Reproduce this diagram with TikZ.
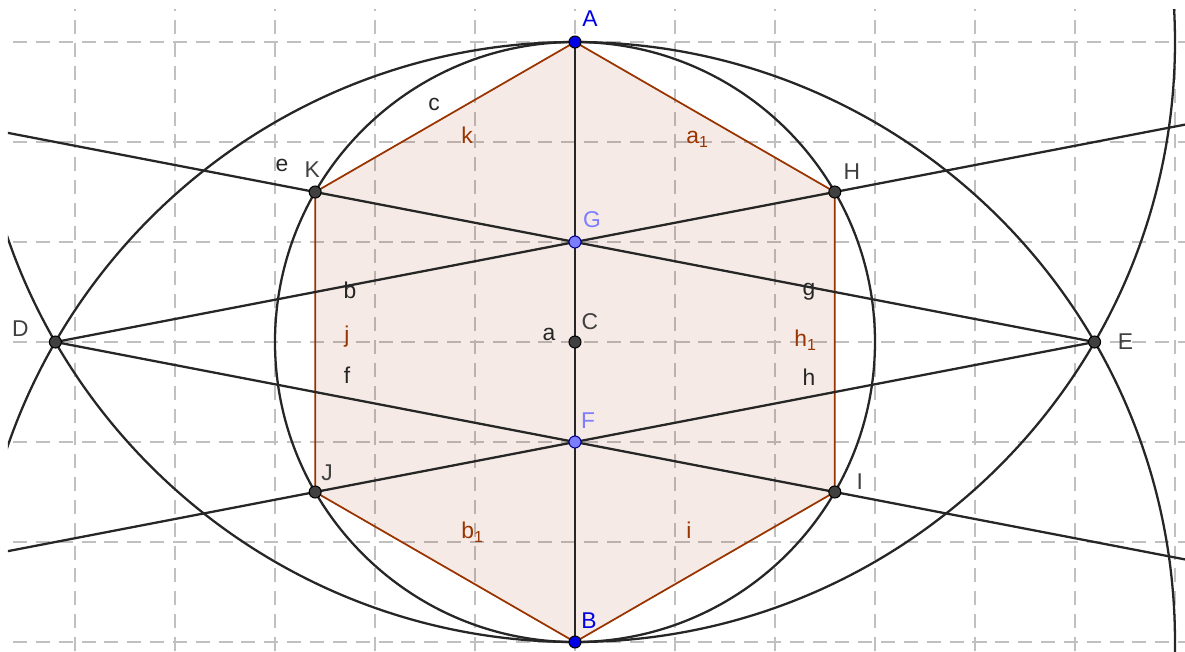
\documentclass[tikz,border=0pt]{standalone}
\usepackage{fontspec}
\setmainfont{Liberation Sans}
\usepackage{xcolor}
\usetikzlibrary{calc}

\definecolor{ggbBrown}{RGB}{153,51,0}
\definecolor{ggbBlue}{RGB}{0,0,230}
\definecolor{ggbLightBlue}{RGB}{125,125,255}
\definecolor{ggbDark}{RGB}{64,64,64}
\definecolor{ggbGrid}{RGB}{192,192,192}

\begin{document}
\begin{tikzpicture}[
    font=\fontsize{6.5}{7.5}\selectfont,
    grid line/.style={ggbGrid, line width=0.35pt, dash pattern=on 4pt off 2.5pt},
    construct/.style={black!85, line width=0.65pt},
    poly edge/.style={ggbBrown, line width=0.5pt},
    dot/.style={circle, draw=black, line width=0.3pt, inner sep=0pt, minimum size=0.12cm},
    dark dot/.style={dot, fill=ggbDark},
    blue dot/.style={dot, fill=ggbBlue},
    light dot/.style={dot, fill=ggbLightBlue, draw=ggbBlue!60!black},
    pt label/.style={inner sep=0pt, text=ggbDark},
    line label/.style={inner sep=0pt, text=black!85},
    edge label/.style={inner sep=0pt, text=ggbBrown}
]

\useasboundingbox (-5.75,-3.09) rectangle (6.10,3.42);

\coordinate (C) at (0,0);
\coordinate (A) at (0,3);
\coordinate (B) at (0,-3);
\coordinate (D) at ({-3*sqrt(3)},0);
\coordinate (E) at ({3*sqrt(3)},0);
\coordinate (G) at (0,1);
\coordinate (F) at (0,-1);
\coordinate (H) at (30:3);
\coordinate (K) at (150:3);
\coordinate (J) at (210:3);
\coordinate (I) at (330:3);

\coordinate (bEnd) at ($(D)!2.5!(G)$);
\coordinate (fEnd) at ($(D)!2.5!(F)$);
\coordinate (eEnd) at ($(E)!2.5!(G)$);
\coordinate (hEnd) at ($(E)!2.5!(F)$);

\begin{scope}
\clip (-5.67,-3.09) rectangle (6.10,3.33);
\foreach \x in {-5,...,6}
    \draw[grid line] (\x,-3.09) -- (\x,3.33);
\foreach \y in {-3,...,3}
    \draw[grid line] (-5.62,\y) -- (6.10,\y);

\fill[ggbBrown, fill opacity=0.1] (A) -- (H) -- (I) -- (B) -- (J) -- (K) -- cycle;
\draw[poly edge] (A) -- (H) -- (I) -- (B) -- (J) -- (K) -- cycle;

\draw[construct] (C) circle[radius=3];
\draw[construct] (A) circle[radius=6];
\draw[construct] (B) circle[radius=6];
\draw[construct] (A) -- (B);
\draw[construct] (D) -- (bEnd);
\draw[construct] (D) -- (fEnd);
\draw[construct] (E) -- (eEnd);
\draw[construct] (E) -- (hEnd);
\end{scope}

\node[blue dot] (dotA) at (A) {};
\node[blue dot] (dotB) at (B) {};
\node[dark dot] (dotC) at (C) {};
\node[dark dot] (dotD) at (D) {};
\node[dark dot] (dotE) at (E) {};
\node[light dot] (dotG) at (G) {};
\node[light dot] (dotF) at (F) {};
\node[dark dot] (dotH) at (H) {};
\node[dark dot] (dotI) at (I) {};
\node[dark dot] (dotJ) at (J) {};
\node[dark dot] (dotK) at (K) {};

\node[pt label, text=ggbBlue] (labA) at ($(A)+(0.15,0.235)$) {A};
\node[pt label, text=ggbBlue] (labB) at ($(B)+(0.14,0.21)$) {B};
\node[pt label] (labC) at ($(C)+(0.15,0.20)$) {C};
\node[pt label] (labD) at ($(D)+(-0.35,0.13)$) {D};
\node[pt label] (labE) at ($(E)+(0.31,0)$) {E};
\node[pt label, text=ggbLightBlue] (labG) at ($(G)+(0.17,0.22)$) {G};
\node[pt label, text=ggbLightBlue] (labF) at ($(F)+(0.13,0.21)$) {F};
\node[pt label] (labH) at ($(H)+(0.17,0.20)$) {H};
\node[pt label] (labI) at ($(I)+(0.25,0.10)$) {I};
\node[pt label] (labJ) at ($(J)+(0.12,0.19)$) {J};
\node[pt label] (labK) at ($(K)+(-0.03,0.22)$) {K};

\node[line label] (labc) at (-1.41,2.38) {c};
\node[line label] (labe) at (-2.93,1.77) {e};
\node[line label] (labb) at (-2.25,0.52) {b};
\node[line label] (labf) at (-2.28,-0.33) {f};
\node[line label] (labg) at (2.34,0.50) {g};
\node[line label] (labh) at (2.34,-0.35) {h};
\node[line label] (laba) at (-0.26,0.08) {a};

\node[edge label] (labk) at (-1.08,2.07) {k};
\node[edge label] (labaa) at (1.23,2.03) {a\textsubscript{1}};
\node[edge label] (labj) at (-2.28,0.05) {j};
\node[edge label] (labhh) at (2.31,0.02) {h\textsubscript{1}};
\node[edge label] (labbb) at (-1.02,-1.90) {b\textsubscript{1}};
\node[edge label] (labi) at (1.14,-1.88) {i};

\end{tikzpicture}
\end{document}
